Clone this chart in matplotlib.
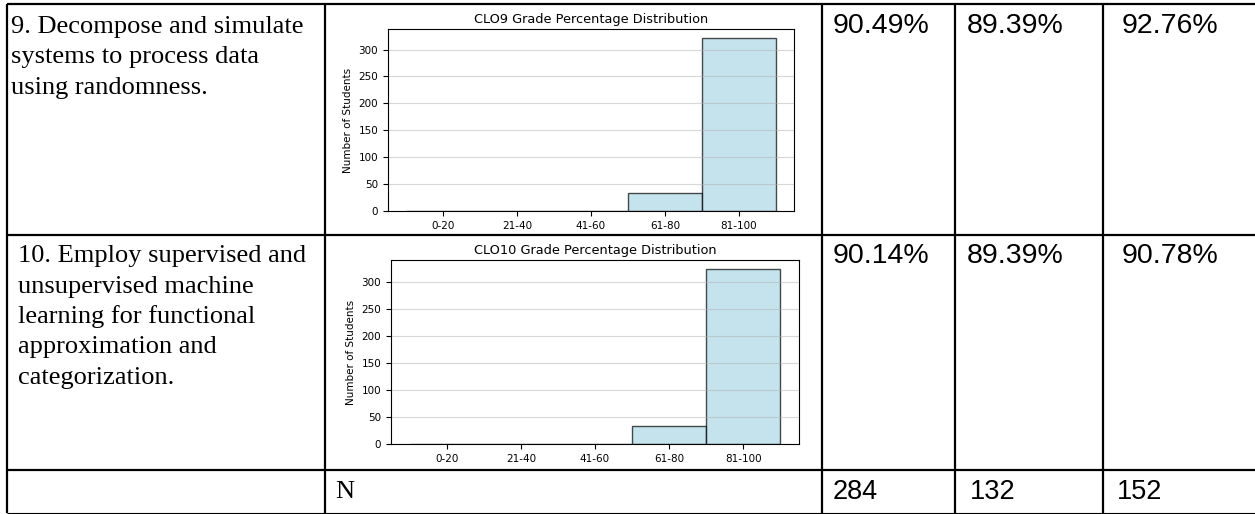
import matplotlib
matplotlib.use("Agg")
import matplotlib.pyplot as plt

# chart data
grade_bins = ['0-20', '21-40', '41-60', '61-80', '81-100']
clo9_counts = [0, 0, 0, 33, 322]
clo10_counts = [0, 0, 0, 33, 325]

# table text
clo9_text = ['9. Decompose and simulate', 'systems to process data', 'using randomness.']
clo10_text = ['10. Employ supervised and', 'unsupervised machine', 'learning for functional',
              'approximation and', 'categorization.']
clo9_pct = ['90.49%', '89.39%', '92.76%']
clo10_pct = ['90.14%', '89.39%', '90.78%']
n_label = 'N'
n_values = ['284', '132', '152']

W, H = 1255, 514
fig = plt.figure(figsize=(W / 100, H / 100), dpi=100)

# background axes in pixel coords for the table
tab = fig.add_axes([0, 0, 1, 1])
tab.set_xlim(0, W)
tab.set_ylim(H, 0)
tab.axis('off')

col_x = [7, 325, 822, 955, 1103]
row_y = [4, 235, 470]
tab.vlines(col_x, 4, 513, color='black', lw=1.6)
tab.hlines(row_y, 7, W, color='black', lw=1.6)
tab.hlines(513, 7, W, color='black', lw=0.8)

serif = 'Liberation Serif'
sans = 'Liberation Sans'

for i, line in enumerate(clo9_text):
    tab.text(11, 33 + i * 30.5, line, family=serif, fontsize=19, va='baseline')
for i, line in enumerate(clo10_text):
    tab.text(18, 262 + i * 30.5, line, family=serif, fontsize=19, va='baseline')

pct_x = [833, 967, 1122]
for x, s in zip(pct_x, clo9_pct):
    tab.text(x, 33, s, family=sans, fontsize=20.5, va='baseline')
for x, s in zip(pct_x, clo10_pct):
    tab.text(x, 263, s, family=sans, fontsize=20.5, va='baseline')

tab.text(335, 492, n_label, family=serif, fontsize=19, va='center')
for x, s in zip([833, 970, 1117], n_values):
    tab.text(x, 492, s, family=sans, fontsize=19.5, va='center')


def grade_chart(rect, counts, title):
    ax = fig.add_axes(rect)
    ax.bar(grade_bins, counts, width=1.0, color='lightblue', alpha=0.7, edgecolor='black')
    ax.set_title(title, fontsize=9.3, pad=4)
    ax.set_ylabel('Number of Students', fontsize=7.5)
    ax.tick_params(labelsize=7.5)
    ax.grid(axis='y', alpha=0.5)
    return ax


def px_rect(left, right, top, bottom):
    return [left / W, 1 - bottom / H, (right - left) / W, (bottom - top) / H]


grade_chart(px_rect(388, 794, 29, 211), clo9_counts, 'CLO9 Grade Percentage Distribution')
grade_chart(px_rect(391, 799, 260, 444), clo10_counts, 'CLO10 Grade Percentage Distribution')

plt.savefig('out.png', dpi=100)
